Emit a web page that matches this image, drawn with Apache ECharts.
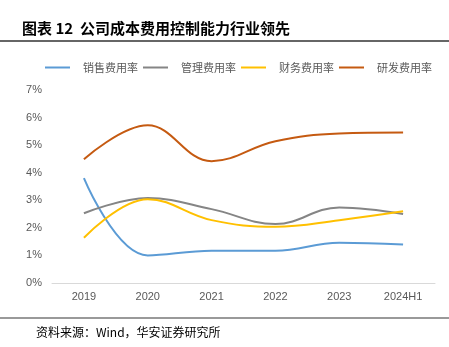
<!DOCTYPE html>
<html>
<head>
<meta charset="utf-8">
<script src="https://cdn.jsdelivr.net/npm/echarts@6/dist/echarts.min.js"></script>
<style>
  html, body { margin: 0; padding: 0; background: #fff; }
  #chart { width: 449px; height: 347px; }
</style>
</head>
<body>
<div id="chart"></div>
<script>
// Expense ratios by year (%)
const categories = ['2019', '2020', '2021', '2022', '2023', '2024H1'];
const salesRatio = [3.80, 1.00, 1.17, 1.17, 1.46, 1.40];
const adminRatio = [2.53, 3.08, 2.68, 2.14, 2.74, 2.50];
const financeRatio = [1.64, 3.04, 2.28, 2.04, 2.28, 2.60];
const rdRatio = [4.49, 5.72, 4.42, 5.14, 5.42, 5.46];
const seriesNames = ['销售费用率', '管理费用率', '财务费用率', '研发费用率'];
const yTicks = [0, 1, 2, 3, 4, 5, 6, 7];

const colors = ['#5B9BD5', '#858585', '#FFC000', '#C55A11'];
const cjk = '"Noto Sans CJK SC", sans-serif';
const latin = '"Liberation Sans", Arial, sans-serif';

const chart = echarts.init(document.getElementById('chart'), null, { renderer: 'canvas' });

const dataSets = [salesRatio, adminRatio, financeRatio, rdRatio];

chart.setOption({
  animation: false,
  color: colors,
  grid: { left: 52, right: 14, top: 90, bottom: 64 },
  legend: {
    top: 62,
    left: 45,
    padding: 0,
    itemWidth: 25,
    itemHeight: 2,
    itemGap: 5,
    icon: 'rect',
    textStyle: { fontFamily: cjk, fontSize: 11, color: '#595959', padding: [0, 0, 0, 8] },
    data: seriesNames
  },
  xAxis: {
    type: 'category',
    data: categories,
    boundaryGap: true,
    axisLine: { lineStyle: { color: '#D9D9D9', width: 1 } },
    axisTick: { show: false },
    axisLabel: { color: '#595959', fontFamily: latin, fontSize: 11, margin: 8 }
  },
  yAxis: {
    type: 'value',
    min: yTicks[0],
    max: yTicks[yTicks.length - 1],
    interval: 1,
    axisLine: { show: false },
    axisTick: { show: false },
    splitLine: { show: false },
    axisLabel: { color: '#595959', fontFamily: latin, fontSize: 11, margin: 10, formatter: v => v + '%' }
  },
  series: seriesNames.map((name, i) => ({
    name,
    type: 'line',
    smooth: 0.4,
    symbol: 'none',
    data: dataSets[i],
    lineStyle: { width: 2, color: colors[i] }
  })),
  graphic: [
    {
      type: 'text', left: 22, top: 21,
      style: { text: '图表 12  公司成本费用控制能力行业领先', font: 'bold 15px ' + cjk, fill: '#000' }
    },
    {
      type: 'line', shape: { x1: 0, y1: 41, x2: 449, y2: 41 },
      style: { stroke: '#333', lineWidth: 1.5 }
    },
    {
      type: 'line', shape: { x1: 0, y1: 318, x2: 449, y2: 318 },
      style: { stroke: '#777', lineWidth: 1.5 }
    },
    {
      type: 'text', left: 36, top: 326,
      style: { text: '资料来源：Wind，华安证券研究所', font: '12px ' + cjk, fill: '#000' }
    }
  ]
});
</script>
</body>
</html>
